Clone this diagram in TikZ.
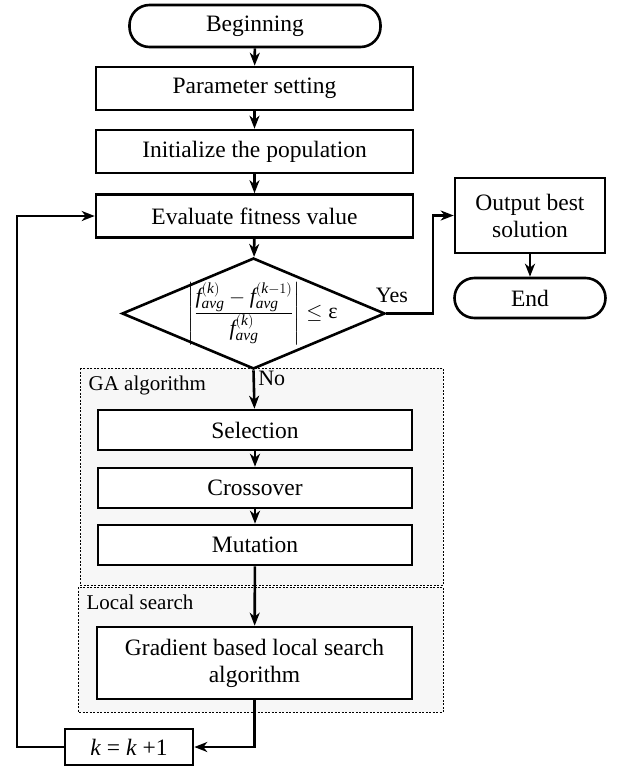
\documentclass[tikz,border=0pt]{standalone}
\usepackage{amsmath}
\usepackage{fontspec}
\setmainfont{Liberation Serif}
\usetikzlibrary{arrows.meta,positioning,shapes.geometric}
\newcommand{\ti}[1]{\textit{#1}}

\begin{document}
\begin{tikzpicture}[x=1pt, y=-1pt, line width=2.6pt,
    box/.style={draw, fill=white, rectangle, minimum width=317pt, minimum height=43pt,
      inner sep=2pt, align=center, font=\fontsize{23.5}{27}\selectfont},
    term/.style={box, rounded corners=20pt},
    decision/.style={draw, diamond, minimum width=263pt, minimum height=111pt, inner sep=0pt},
    group/.style={draw, line width=0.8pt, dash pattern=on 2pt off 1.5pt, fill=black!3},
    grouplabel/.style={anchor=west, font=\fontsize{21}{24}\selectfont},
    answer/.style={font=\fontsize{22}{25}\selectfont},
    flow/.style={-{Stealth[length=13pt, width=10pt, inset=4pt]}}]
    \useasboundingbox (0,0) rectangle (623,769);

    \draw[group] (80,368) rectangle (443,585);
    \node[grouplabel] (galabel) at (84,385) {GA algorithm};
    \draw[group] (78,587) rectangle (443,712);
    \node[grouplabel] (lslabel) at (82,602) {Local search};

    \node[term, minimum width=251pt, minimum height=42pt] (begin) at (255,26) {Beginning};
    \node[box] (param) at (254.5,88.5) {Parameter setting};
    \node[box] (init) at (254.5,151.5) {Initialize the population};
    \node[box] (eval) at (254.5,216) {Evaluate fitness value};
    \node[decision, label={[font=\fontsize{22}{30}\selectfont, xshift=9pt]center:{$\Bigg|\frac{\textstyle\ti{f}_{\ti{avg}}^{(\ti{k})}-\ti{f}_{\ti{avg}}^{(\ti{k}-1)}}{\textstyle\ti{f}_{\ti{avg}}^{(\ti{k})}}\Bigg|\le\text{ε}$}}] (cond) at (253.5,313.5) {};

    \node[box, minimum width=314pt, minimum height=40pt] (sel) at (255,430) {Selection};
    \node[box, minimum width=314pt, minimum height=40pt] (cross) at (255,488) {Crossover};
    \node[box, minimum width=314pt, minimum height=40pt] (mut) at (255,545) {Mutation};
    \node[box, minimum width=315pt, minimum height=72pt] (grad) at (254.5,663) {Gradient based local search\\algorithm};
    \node[box, minimum width=128pt, minimum height=36pt] (kinc) at (129,747) {\ti{k} = \ti{k} +1};

    \node[box, minimum width=150pt, minimum height=75pt] (out) at (530,215.5) {Output best\\solution};
    \node[term, minimum width=151pt, minimum height=40pt] (end) at (530,298) {End};

    \coordinate (yesturn) at (433,313.5);
    \coordinate (loopturn) at (17,747);

    \draw[flow] (begin) -- (param);
    \draw[flow] (param) -- (init);
    \draw[flow] (init) -- (eval);
    \draw[flow] (eval) -- (cond);
    \draw[flow] (cond.south) -- node[answer, pos=0.22, right] {No} (sel);
    \draw[flow] (sel) -- (cross);
    \draw[flow] (cross) -- (mut);
    \draw[flow] (mut) -- (grad);
    \draw[flow] (grad.south) |- (kinc.east);
    \draw[flow] (kinc.west) -- (loopturn) |- (eval.west);
    \draw[flow] (cond.east) -- node[answer, pos=0.12, above, yshift=6pt] {Yes} (yesturn) |- (out.west);
    \draw[flow] (out) -- (end);
  \end{tikzpicture}
\end{document}
